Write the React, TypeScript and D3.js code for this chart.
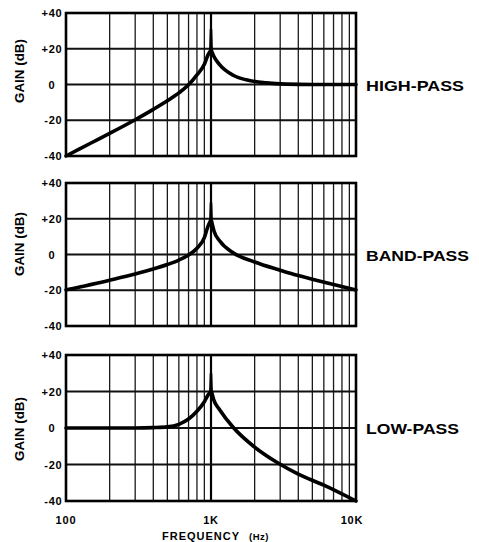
import React from "react";
import * as d3 from "d3";

const panelNames = ["HIGH-PASS", "BAND-PASS", "LOW-PASS"];
const freqTicks = [100, 1000, 10000];
const freqTickLabels = ["100", "1K", "10K"];
const gainTicks = [40, 20, 0, -20, -40];
const gainTickLabels = ["+40", "+20", "0", "-20", "-40"];

const hpFreq = [100, 150, 200, 300, 400, 500, 600, 700, 800, 900, 950, 990, 1000, 1010, 1050, 1150, 1420, 1750, 2400, 3300, 5000, 10000];
const hpGain = [-40, -32.6, -27.35, -19.7, -13.9, -9.1, -4.7, -0.2, 5.4, 11.3, 16.3, 18.7, 31, 18.7, 15.5, 11, 5.2, 2.6, 0.9, 0.2, 0, 0];

const bpFreq = [100, 200, 300, 400, 500, 600, 700, 800, 900, 950, 990, 1000, 1010, 1050, 1150, 1420, 2000, 3000, 4000, 5000, 7000, 10000];
const bpGain = [-19.8, -14.35, -10.9, -8.1, -5.6, -3.1, -0.3, 3.5, 9.4, 15.5, 18.7, 29, 18.5, 13, 7.5, 1, -4.2, -8.8, -11.8, -13.8, -16.8, -19.8];

const lpFreq = [100, 200, 300, 400, 500, 600, 700, 800, 900, 950, 990, 1000, 1010, 1050, 1150, 1420, 2000, 2900, 4000, 6000, 10000];
const lpGain = [0, 0, 0, 0.2, 0.6, 2.0, 4.9, 9.15, 14.4, 17.8, 19.8, 30, 19.8, 15, 9.9, 0.4, -10.5, -19.2, -25.3, -31.3, -40];

const seriesFreq = [hpFreq, bpFreq, lpFreq];
const seriesGain = [hpGain, bpGain, lpGain];

const minorFreqs = [200, 300, 400, 500, 600, 700, 800, 900, 2000, 3000, 4000, 5000, 6000, 7000, 8000, 9000];

const panelTops = [13, 183, 355];
const panelBottoms = [156, 326, 501];
const titleCenters = [71, 244, 429];
const nameBaselines = [91, 261, 434];
const nameLengths = [98, 103, 93];

const FONT = "'Liberation Sans', Arial, Helvetica, sans-serif";

export default function App() {
  const x = d3.scaleLog().domain([100, 10000]).range([66, 356]);
  return (
    <svg width={479} height={542} style={{ position: "absolute", left: 0, top: 0, background: "#fff" }}>
      <rect x={0} y={0} width={479} height={542} fill="#fff" />
      {panelNames.map((name, i) => {
        const y = d3.scaleLinear().domain([-40, 40]).range([panelBottoms[i], panelTops[i]]);
        const pts = seriesFreq[i].map((f, k) => [f, seriesGain[i][k]] as [number, number]);
        const p = d3.maxIndex(pts, (d) => d[1]);
        const smooth = d3
          .line<[number, number]>()
          .x((d) => x(d[0]))
          .y((d) => y(d[1]))
          .curve(d3.curveMonotoneX);
        const straight = d3
          .line<[number, number]>()
          .x((d) => x(d[0]))
          .y((d) => y(d[1]));
        const leftPts = pts.slice(0, p);
        const rightPts = pts.slice(p + 1);
        const spikePts = pts.slice(p - 1, p + 2);
        return (
          <g key={name}>
            {minorFreqs.map((f) => (
              <line key={f} x1={x(f)} x2={x(f)} y1={y(40)} y2={y(-40)} stroke="#1a1a1a" strokeWidth={1.3} />
            ))}
            <line x1={x(1000)} x2={x(1000)} y1={y(40)} y2={y(-40)} stroke="#000" strokeWidth={2.2} />
            {gainTicks.slice(1, -1).map((g) => (
              <line key={g} x1={x(100)} x2={x(10000)} y1={y(g)} y2={y(g)} stroke="#111" strokeWidth={2} />
            ))}
            <rect x={x(100)} y={y(40)} width={x(10000) - x(100)} height={y(-40) - y(40)} fill="none" stroke="#000" strokeWidth={2.6} />
            <path d={smooth(leftPts) || ""} fill="none" stroke="#000" strokeWidth={3.6} strokeLinecap="round" />
            <path d={smooth(rightPts) || ""} fill="none" stroke="#000" strokeWidth={3.6} strokeLinecap="round" />
            <path d={straight(spikePts) || ""} fill="none" stroke="#000" strokeWidth={2.6} strokeLinejoin="miter" />
            {gainTicks.map((g, k) => (
              <text
                key={g}
                x={gainTickLabels[k] === "0" ? 55.5 : 62.5}
                y={y(g) + 4}
                textAnchor="end"
                fontFamily={FONT}
                fontWeight="bold"
                fontSize={11}
                letterSpacing={0.8}
                fill="#000"
              >
                {gainTickLabels[k]}
              </text>
            ))}
            <text
              transform={`translate(24,${titleCenters[i]}) rotate(-90)`}
              textAnchor="middle"
              fontFamily={FONT}
              fontWeight="bold"
              fontSize={12}
              textLength={64}
              lengthAdjust="spacingAndGlyphs"
              fill="#000"
            >
              GAIN (dB)
            </text>
            <text
              x={366}
              y={nameBaselines[i]}
              fontFamily={FONT}
              fontWeight="bold"
              fontSize={15}
              textLength={nameLengths[i]}
              lengthAdjust="spacingAndGlyphs"
              fill="#000"
            >
              {name}
            </text>
          </g>
        );
      })}
      {freqTicks.map((f, k) => (
        <text
          key={f}
          x={x(f) + (k === 2 ? -4 : 0)}
          y={524}
          textAnchor="middle"
          fontFamily={FONT}
          fontWeight="bold"
          fontSize={11}
          letterSpacing={0.8}
          fill="#000"
        >
          {freqTickLabels[k]}
        </text>
      ))}
      <text x={162} y={540} fontFamily={FONT} fontWeight="bold" fill="#000">
        <tspan fontSize={11} letterSpacing={1}>FREQUENCY</tspan>
        <tspan dx={9} fontSize={9.5} letterSpacing={0.5}>(Hz)</tspan>
      </text>
    </svg>
  );
}
